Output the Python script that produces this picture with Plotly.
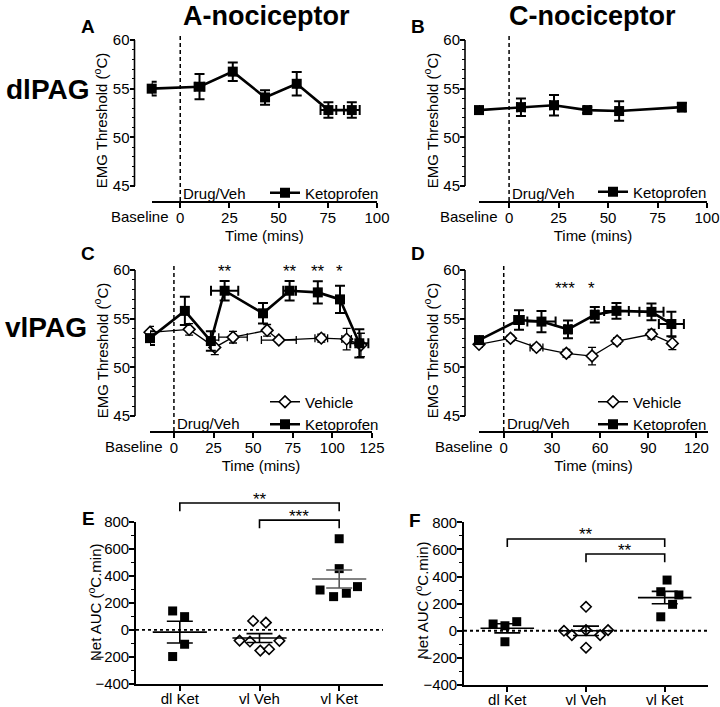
import numpy as np
import plotly.graph_objects as go

W, H = 720, 707
FONT = "Liberation Sans, Arial, Helvetica, sans-serif"

# ---------------- data ----------------
# A: dlPAG, A-nociceptor
a_ket_time = [-14.5, 9.8, 26.7, 43.1, 59.2, 75.3, 87.2]
a_ket_time_sem = [0, 2.5, 0, 0, 0, 4, 4]
a_ket_thr = [55.0, 55.2, 56.75, 54.1, 55.5, 52.8, 52.8]
a_ket_sem = [0.7, 1.3, 0.95, 0.75, 1.2, 0.8, 0.8]

# B: dlPAG, C-nociceptor
b_ket_time = [-15.2, 6.0, 22.7, 39.5, 55.6, 87.3]
b_ket_time_sem = [0, 2, 2, 1.5, 0, 1.5]
b_ket_thr = [52.8, 53.1, 53.3, 52.8, 52.7, 53.1]
b_ket_sem = [0.3, 0.9, 1.05, 0.3, 1.0, 0.45]

# C: vlPAG, A-nociceptor
c_veh_time = [-15.1, 9.6, 25.8, 37.3, 58.8, 66.2, 93.0, 109.0, 118.0]
c_veh_time_sem = [0, 0, 0, 9, 0, 11, 4, 3, 0]
c_veh_thr = [53.6, 53.9, 52.05, 53.1, 53.8, 52.8, 53.0, 52.9, 52.3]
c_veh_sem = [0.6, 0.6, 0.75, 0.6, 0.6, 0.2, 0.4, 1.1, 1.2]
c_ket_time = [-15.1, 6.9, 23.3, 32.0, 56.2, 73.0, 90.8, 104.8, 117.0]
c_ket_time_sem = [0, 0, 0, 8.6, 0, 4, 0, 0, 5.7]
c_ket_thr = [53.0, 55.8, 52.7, 57.87, 55.55, 57.87, 57.7, 56.98, 52.47]
c_ket_sem = [0.7, 1.45, 1.0, 1.0, 1.05, 1.0, 1.15, 1.4, 1.45]
c_sig_time = [32.0, 73.0, 90.8, 104.8]
c_sig_text = ["**", "**", "**", "*"]
c_sig_level = 60.3

# D: vlPAG, C-nociceptor
d_veh_time = [-15.4, 4.2, 20.4, 39.0, 55.0, 70.6, 92.0, 105.0]
d_veh_time_sem = [0, 0, 4, 0, 0, 2, 2, 0]
d_veh_thr = [52.36, 52.98, 52.05, 51.44, 51.16, 52.7, 53.4, 52.46]
d_veh_sem = [0.3, 0.3, 0.3, 0.4, 0.9, 0.3, 0.5, 0.65]
d_ket_time = [-15.4, 9.5, 23.5, 40.0, 56.7, 70.2, 92.0, 104.4]
d_ket_time_sem = [0, 3, 8.8, 2, 2, 7.7, 7.5, 7.8]
d_ket_thr = [52.8, 54.86, 54.7, 53.9, 55.4, 55.8, 55.7, 54.45]
d_ket_sem = [0.3, 1.0, 1.1, 0.9, 0.8, 0.8, 0.85, 1.25]
d_sig_time = [38.0, 54.6]
d_sig_text = ["***", "*"]
d_sig_level = 58.55

# E / F: net AUC (oC.min)
groups = ["dl Ket", "vl Veh", "vl Ket"]
e_dl_ket = [140, 98, -106, -197]
e_vl_veh = [66, 54, -79, -86, -153, -143, -81]
e_vl_ket = [674, 453, 295, 246, 271, 320]
f_dl_ket = [50, 37, 67, -81]
f_vl_veh = [177, 0, -32, 5, -32, 5, -125]
f_vl_ket = [374, 288, 264, 195, 103]
# comparisons: (from group, to group, bracket level, stars)
e_sig = [(0, 2, 938, "**"), (1, 2, 812, "***")]
f_sig = [(0, 2, 677, "**"), (1, 2, 566, "**")]

# horizontal scatter of the dots inside each column
e_jitter = [[-0.09, 0.06, 0.06, -0.09],
            [-0.08, 0.08, -0.25, -0.12, 0.01, 0.12, 0.25],
            [0.0, 0.0, -0.24, -0.07, 0.09, 0.23]]
f_jitter = [[-0.18, -0.03, 0.12, -0.03],
            [0.0, -0.28, -0.18, 0.0, 0.18, 0.28, 0.0],
            [0.03, -0.05, 0.18, 0.1, -0.05]]


def xdom(a, b):
    return [a / W, b / W]


def ydom(top, bottom):
    return [1 - bottom / H, 1 - top / H]


def to_paper(v, dom, rng):
    return dom[0] + (v - rng[0]) / (rng[1] - rng[0]) * (dom[1] - dom[0])


AX = dict(showline=True, linecolor="black", linewidth=1.6, ticks="outside",
          ticklen=5, tickwidth=1.6, tickcolor="black", showgrid=False,
          zeroline=False, automargin=False, tickfont=dict(size=15, color="black"))

# panel geometry in pixels: x domain, y span of 45-60, x-axis line row, y-axis line column
panels = {
    "A": dict(xd=(151.7, 377), yd=(40, 186), xline=201, yline=134.5, xr=[-14.5, 100], xt=[0, 25, 50, 75, 100]),
    "B": dict(xd=(479, 707), yd=(40, 186), xline=201, yline=465, xr=[-15.2, 100], xt=[0, 25, 50, 75, 100]),
    "C": dict(xd=(150, 372), yd=(270, 416), xline=431, yline=135, xr=[-15.1, 125], xt=[0, 25, 50, 75, 100, 125]),
    "D": dict(xd=(479, 708), yd=(270, 416), xline=431, yline=465, xr=[-15.4, 127.2], xt=[0, 30, 60, 90, 120]),
}
auc_panels = {
    "E": dict(xd=(136, 383), yd=(521.7, 684), title_at=(94, 602)),
    "F": dict(xd=(464, 708), yd=(522.3, 685), title_at=(421, 600)),
}
Y_TICKS = [45, 50, 55, 60]
AUC_R = [-400, 800]
CAT_R = [-0.55, 2.55]

fig = go.Figure()
layout = dict(width=W, height=H, margin=dict(l=0, r=0, t=0, b=0, autoexpand=False),
              paper_bgcolor="white", plot_bgcolor="white",
              font=dict(family=FONT, size=15, color="black"))
shapes, annotations = [], []


def time_series(x, xe, y, ye, name, n, legend, vehicle):
    return go.Scatter(
        x=x, y=y, mode="lines+markers", name=name,
        xaxis="x" if n == 1 else f"x{n}", yaxis="y" if n == 1 else f"y{n}",
        legend=legend, cliponaxis=False,
        line=dict(color="black", width=1.3 if vehicle else 2.6),
        marker=dict(symbol="diamond" if vehicle else "square",
                    size=9 if vehicle else 10,
                    color="white" if vehicle else "black",
                    line=dict(color="black", width=1.6 if vehicle else 0)),
        error_y=dict(type="data", array=ye, color="black",
                     thickness=1.3 if vehicle else 2, width=4 if vehicle else 5),
        error_x=dict(type="data", array=xe, color="black",
                     thickness=1.3 if vehicle else 2, width=4 if vehicle else 5),
    )


series = {
    "A": [(a_ket_time, a_ket_time_sem, a_ket_thr, a_ket_sem, "Ketoprofen", False)],
    "B": [(b_ket_time, b_ket_time_sem, b_ket_thr, b_ket_sem, "Ketoprofen", False)],
    "C": [(c_veh_time, c_veh_time_sem, c_veh_thr, c_veh_sem, "Vehicle", True),
          (c_ket_time, c_ket_time_sem, c_ket_thr, c_ket_sem, "Ketoprofen", False)],
    "D": [(d_veh_time, d_veh_time_sem, d_veh_thr, d_veh_sem, "Vehicle", True),
          (d_ket_time, d_ket_time_sem, d_ket_thr, d_ket_sem, "Ketoprofen", False)],
}
sig = {"C": (c_sig_time, c_sig_text, c_sig_level), "D": (d_sig_time, d_sig_text, d_sig_level)}
legend_names = {"A": "legend", "B": "legend2", "C": "legend3", "D": "legend4"}
legend_pos = {"A": (384, 193), "B": (712, 192), "C": (384, 413), "D": (712, 413)}

for n, key in enumerate(["A", "B", "C", "D"], start=1):
    p = panels[key]
    sx = "" if n == 1 else str(n)
    ytop, ybot = p["yd"]
    # the y domain reaches down to the (offset) x-axis line; 45 sits above it
    yd = ydom(ytop, p["xline"])
    y_lo = 45 - (p["xline"] - ybot) / (ybot - ytop) * 15
    yr = [y_lo, 60]
    layout["xaxis" + sx] = dict(AX, domain=xdom(*p["xd"]), range=p["xr"], anchor="y" + sx,
                                tickvals=p["xt"], ticklabelstandoff=-3,
                                title=dict(text="Time (mins)", font=dict(size=15), standoff=6))
    layout["yaxis" + sx] = dict(AX, domain=yd, range=yr, anchor="free", showline=False,
                                position=p["yline"] / W, tickvals=Y_TICKS, ticklabelstandoff=-3,
                                minor=dict(tickvals=list(range(45, 61)), ticks="outside", ticklen=3,
                                           tickwidth=1.2, tickcolor="black"),
                                title=dict(text="EMG Threshold (<sup>o</sup>C)",
                                           font=dict(size=15), standoff=0))
    # y-axis line only spans 45-60
    shapes.append(dict(type="line", xref="paper", yref="y" + sx, x0=p["yline"] / W, x1=p["yline"] / W,
                       y0=45, y1=60, line=dict(color="black", width=1.6)))
    for s in series[key]:
        fig.add_trace(time_series(*s[:5], n, legend_names[key], s[5]))
    lx, ly = legend_pos[key]
    layout[legend_names[key]] = dict(x=lx / W, y=1 - ly / H, xanchor="right", yanchor="middle",
                                     bgcolor="rgba(0,0,0,0)", font=dict(size=15),
                                     traceorder="normal", itemclick=False)
    # drug / vehicle injection time
    shapes.append(dict(type="line", xref="x" + sx, yref="paper", x0=0, x1=0,
                       y0=yd[0], y1=yd[1] + 5 / H,
                       line=dict(color="black", width=1.5, dash="4px,3px")))
    annotations.append(dict(xref="x" + sx, yref="paper", x=0, y=1 - (p["xline"] - 8) / H,
                            text="Drug/Veh", showarrow=False, xanchor="left",
                            yanchor="middle", xshift=1, font=dict(size=15)))
    annotations.append(dict(xref="x" + sx, yref="paper", x=0, y=1 - (p["xline"] + 15) / H,
                            text="Baseline", showarrow=False, xanchor="right",
                            yanchor="middle", xshift=-9, font=dict(size=15)))
    if key in sig:
        times, texts, level = sig[key]
        for t, s in zip(times, texts):
            annotations.append(dict(xref="x" + sx, yref="paper", x=t, y=to_paper(level, yd, yr),
                                    text=s, showarrow=False, yanchor="middle", yshift=-4,
                                    font=dict(size=17)))

# ---------------- AUC panels ----------------
auc_data = {"E": [e_dl_ket, e_vl_veh, e_vl_ket], "F": [f_dl_ket, f_vl_veh, f_vl_ket]}
auc_jit = {"E": e_jitter, "F": f_jitter}
auc_sig = {"E": e_sig, "F": f_sig}
mean_color = {"E": ["black", "black", "#5a5a5a"], "F": ["black", "black", "black"]}

for n, key in [(5, "E"), (6, "F")]:
    p = auc_panels[key]
    xd = xdom(*p["xd"])
    yd = ydom(*p["yd"])
    layout[f"xaxis{n}"] = dict(AX, domain=xd, range=CAT_R, anchor=f"y{n}",
                               tickvals=[0, 1, 2], ticktext=groups, ticklabelstandoff=-5)
    layout[f"yaxis{n}"] = dict(AX, domain=yd, range=AUC_R, anchor=f"x{n}",
                               tickvals=list(range(-400, 801, 200)), ticklabelstandoff=-3,
                               minor=dict(dtick=100, ticks="outside", ticklen=3,
                                          tickwidth=1.2, tickcolor="black"))
    tx, ty = p["title_at"]
    annotations.append(dict(xref="paper", yref="paper", x=tx / W, y=1 - ty / H,
                            text="Net AUC (<sup>o</sup>C.min)", textangle=-90, showarrow=False,
                            xanchor="center", yanchor="middle", font=dict(size=15)))
    shapes.append(dict(type="line", xref="paper", yref=f"y{n}", x0=xd[0], x1=xd[1], y0=0, y1=0,
                       line=dict(color="black", width=1.8, dash="dot")))
    for i, vals in enumerate(auc_data[key]):
        veh = groups[i] == "vl Veh"
        fig.add_trace(go.Scatter(
            x=[i + j for j in auc_jit[key][i]], y=vals, mode="markers",
            xaxis=f"x{n}", yaxis=f"y{n}", showlegend=False, cliponaxis=False,
            marker=dict(symbol="diamond" if veh else "square", size=8 if veh else 9,
                        color="white" if veh else "black",
                        line=dict(color="black", width=1.6 if veh else 0))))
        m = float(np.mean(vals))
        sem = float(np.std(vals, ddof=1) / np.sqrt(len(vals)))
        col = mean_color[key][i]
        fig.add_trace(go.Scatter(
            x=[i - 0.34, i + 0.34], y=[m, m], mode="lines", xaxis=f"x{n}", yaxis=f"y{n}",
            showlegend=False, line=dict(color=col, width=1.6)))
        fig.add_trace(go.Scatter(
            x=[i], y=[m], mode="markers", xaxis=f"x{n}", yaxis=f"y{n}", showlegend=False,
            marker=dict(size=1, color="rgba(0,0,0,0)"),
            error_y=dict(type="data", array=[sem], color=col, thickness=1.6, width=13)))
    for g0, g1, lvl, stars in auc_sig[key]:
        top = to_paper(lvl, yd, AUC_R)
        foot = to_paper(lvl - 60, yd, AUC_R)
        shapes.append(dict(type="path", xref=f"x{n}", yref="paper",
                           path=f"M {g0},{foot} L {g0},{top} L {g1},{top} L {g1},{foot}",
                           line=dict(color="black", width=1.6)))
        annotations.append(dict(xref=f"x{n}", yref="paper", x=(g0 + g1) / 2, y=top,
                                text=stars, showarrow=False, yanchor="middle",
                                yshift=4, font=dict(size=17)))

# ---------------- headings ----------------
big = [("<b>A-nociceptor</b>", 266, 16, 27), ("<b>C-nociceptor</b>", 592, 16, 27),
       ("<b>dlPAG</b>", 47, 90, 28), ("<b>vlPAG</b>", 46, 327, 28)]
for txt, x, y, sz in big:
    annotations.append(dict(xref="paper", yref="paper", x=x / W, y=1 - y / H, text=txt,
                            showarrow=False, xanchor="center", yanchor="middle",
                            font=dict(size=sz)))
letters = [("A", 88, 27), ("B", 418, 27), ("C", 88, 253), ("D", 418, 253), ("E", 88, 518), ("F", 415, 520)]
for txt, x, y in letters:
    annotations.append(dict(xref="paper", yref="paper", x=x / W, y=1 - y / H, text=f"<b>{txt}</b>",
                            showarrow=False, xanchor="center", yanchor="middle",
                            font=dict(size=19)))

layout["shapes"] = shapes
layout["annotations"] = annotations
fig.update_layout(**layout)
# the page's default body margin would push the 720x707 figure out of the window
fig.write_html("out.html", config={"displayModeBar": False},
               post_script="document.body.style.margin = '0px';")
